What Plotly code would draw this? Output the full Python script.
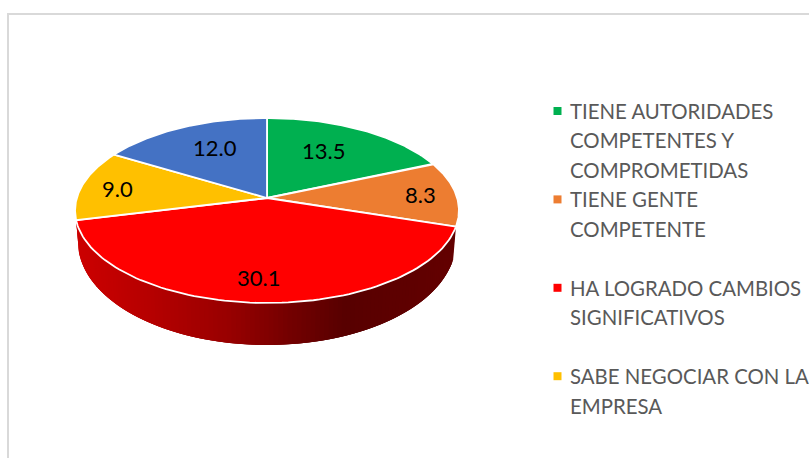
import numpy as np
import plotly.graph_objects as go

# --- data ---
categories = ["TIENE AUTORIDADES COMPETENTES Y COMPROMETIDAS", "TIENE GENTE COMPETENTE",
              "HA LOGRADO CAMBIOS SIGNIFICATIVOS", "SABE NEGOCIAR CON LA EMPRESA", ""]
values = [13.5, 8.3, 30.1, 9.0, 12.0]
colors = ["#00B050", "#ED7D31", "#FF0000", "#FFC000", "#4472C4"]
legend_lines = [["TIENE AUTORIDADES", "COMPETENTES Y", "COMPROMETIDAS"],
                ["TIENE GENTE", "COMPETENTE"],
                ["HA LOGRADO CAMBIOS", "SIGNIFICATIVOS"],
                ["SABE NEGOCIAR CON LA", "EMPRESA"]]

# --- layout constants (pixel space of the axes) ---
W, H = 809, 458
CX, CY = 267, 198
K, B, C = 190.2, 90.8, 0.135
label_pos = [(323, 150.5), (420.5, 194.5), (258.5, 277.5), (117, 188.5), (215, 147.5)]
LEG_X, LEG_Y0, LEG_SLOT, LEG_LINE = 568, 111, 88.4, 29.3
FONT = "Lato"


def project(theta, r=1.0):
    u, v = r * np.sin(theta), r * np.cos(theta)
    d = 1 + C * v
    return CX + K * u / d, CY - B * v / d


def project_bottom(theta):
    x, y = project(theta)
    v = np.cos(theta)
    depth = 29 - 13 * v
    return CX + (x - CX) * 0.985, y + depth


def shade(x):
    xs = [78, 150, 230, 290, 345, 455]
    r = [204, 182, 152, 116, 88, 100]
    return f"rgb({int(np.interp(x, xs, r))},0,0)"


fig = go.Figure()
total = sum(values)
edges = np.concatenate([[0], np.cumsum(values)]) / total * 2 * np.pi

# side wall of the red slice: overlapping strips so no seams show
lo, hi = edges[2], edges[3]
steps = np.linspace(lo, hi, 121)
for k in range(len(steps) - 1):
    t = steps[k:min(k + 4, len(steps))]
    xt, yt = project(t)
    xb, yb = project_bottom(t)
    col = shade(project((steps[k] + steps[k + 1]) / 2)[0])
    fig.add_trace(go.Scatter(x=np.r_[xt, xb[::-1], xt[0]], y=np.r_[yt, yb[::-1], yt[0]], mode="lines",
                             fill="toself", fillcolor=col, line=dict(width=0),
                             hoverinfo="skip", showlegend=False))

# top face
for i, (name, val, col) in enumerate(zip(categories, values, colors)):
    t = np.linspace(edges[i], edges[i + 1], 90)
    ax, ay = project(t)
    fig.add_trace(go.Scatter(x=np.r_[CX, ax, CX], y=np.r_[CY, ay, CY], mode="lines",
                             fill="toself", fillcolor=col, line=dict(color="white", width=1.8),
                             name=name, text=f"{val:.1f}", hoverinfo="text", showlegend=False))

# value labels
for val, (lx, ly) in zip(values, label_pos):
    fig.add_annotation(x=lx, y=ly, text=f"{val:.1f}", showarrow=False,
                       font=dict(family=FONT, size=22, color="black"))

# legend
for i, lines in enumerate(legend_lines):
    y0 = LEG_Y0 + i * LEG_SLOT
    fig.add_trace(go.Scatter(x=[557.5], y=[y0], mode="markers",
                             marker=dict(symbol="square", size=8, color=colors[i]),
                             hoverinfo="skip", showlegend=False))
    for j, line in enumerate(lines):
        fig.add_annotation(x=LEG_X, y=y0 + j * LEG_LINE, text=line, showarrow=False,
                           xanchor="left", font=dict(family=FONT, size=20.4, color="#595959"))

fig.update_layout(
    width=W, height=H, margin=dict(l=0, r=0, t=0, b=0),
    paper_bgcolor="white", plot_bgcolor="white",
    xaxis=dict(range=[0, W], visible=False, fixedrange=True),
    yaxis=dict(range=[H, 0], visible=False, fixedrange=True),
    shapes=[dict(type="rect", xref="x", yref="y", x0=8, y0=14, x1=W + 50, y1=H + 50,
                 line=dict(color="#D9D9D9", width=2), layer="below")],
)
fig.write_html("out.html", post_script="document.body.style.margin='0';",
               config={"displayModeBar": False})
